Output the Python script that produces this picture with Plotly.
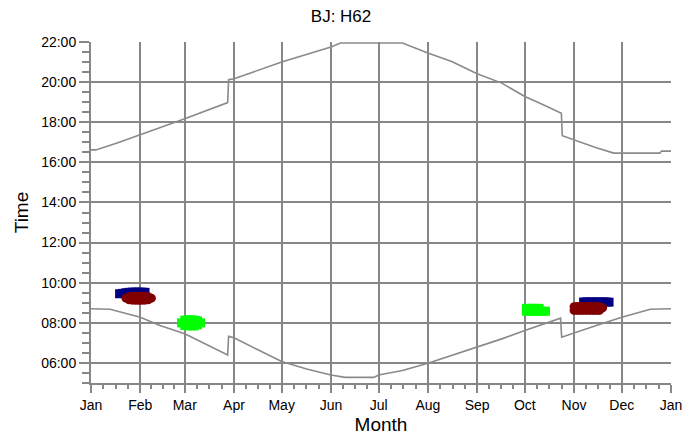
import datetime as dt
import plotly.graph_objects as go

# day of year (0 = 1 Jan) and hour of day
upper_day = [0, 3, 16, 31, 47.6, 59, 86, 86.6, 90, 120, 151, 157, 196, 212, 227, 243, 258.5, 273, 284.6, 296, 296.6, 304, 318, 329, 358, 359, 365]
upper_hr = [16.62, 16.62, 16.95, 17.37, 17.87, 18.17, 18.98, 20.12, 20.17, 21.0, 21.75, 21.95, 21.95, 21.45, 21.03, 20.42, 19.95, 19.28, 18.87, 18.45, 17.33, 17.12, 16.73, 16.46, 16.46, 16.56, 16.56]

lower_day = [0, 12, 31, 43.4, 59, 86, 86.6, 90, 105, 120, 135.7, 151, 160, 178, 181, 196, 212, 227, 243, 258.5, 273, 295.5, 296.2, 304, 318, 334, 352, 365]
lower_hr = [8.70, 8.68, 8.28, 7.87, 7.45, 6.40, 7.33, 7.25, 6.66, 6.07, 5.70, 5.40, 5.28, 5.28, 5.40, 5.62, 5.98, 6.37, 6.82, 7.20, 7.62, 8.23, 7.28, 7.50, 7.87, 8.28, 8.68, 8.70]

navy_day = [18, 20, 22, 24, 26, 28, 30, 32, 34,
            310, 312, 314, 316, 318, 320, 322, 324, 326]
navy_hr = [9.45, 9.47, 9.5, 9.52, 9.53, 9.53, 9.53, 9.53, 9.52,
           9.04, 9.04, 9.04, 9.04, 9.04, 9.04, 9.04, 9.04, 9.03]

red_day = [22, 24, 26, 28, 30, 32, 34, 36, 38, 24, 26, 28, 30, 32, 34, 36,
           304, 306, 308, 310, 312, 314, 316, 318, 320, 322, 304, 306, 308, 310, 312, 314, 316, 318, 320]
red_hr = [9.23, 9.3, 9.33, 9.33, 9.33, 9.33, 9.33, 9.3, 9.23, 9.15, 9.13, 9.12, 9.12, 9.12, 9.13, 9.15,
          8.8, 8.82, 8.82, 8.82, 8.82, 8.82, 8.82, 8.82, 8.8, 8.75, 8.62, 8.62, 8.62, 8.62, 8.62, 8.62, 8.62, 8.62, 8.62]

green_day = [57, 59, 61, 63, 65, 67, 69, 59, 61, 63, 65, 67,
             274, 276, 278, 280, 282, 274, 276, 278, 280, 282, 284, 286]
green_hr = [8.0, 8.13, 8.15, 8.15, 8.13, 8.1, 8.0, 7.87, 7.85, 7.85, 7.85, 7.9,
            8.72, 8.72, 8.72, 8.72, 8.72, 8.58, 8.58, 8.58, 8.58, 8.58, 8.58, 8.58]

hour_ticks = list(range(6, 23, 2))
hour_labels = [f"{h:02d}:00" for h in hour_ticks]

year0 = dt.datetime(2001, 1, 1)


def to_dates(days):
    return [year0 + dt.timedelta(days=d) for d in days]


# minor ticks: each month split in quarters
month_starts = [dt.datetime(2001, m, 1) for m in range(1, 13)] + [dt.datetime(2002, 1, 1)]
minor_vals = []
for a, b in zip(month_starts[:-1], month_starts[1:]):
    for k in (1, 2, 3):
        minor_vals.append(a + (b - a) * k / 4)

GRID = "#878787"

fig = go.Figure()
fig.add_trace(go.Scatter(x=to_dates(upper_day), y=upper_hr, mode="lines",
                         line=dict(color="#8a8a8a", width=1.6)))
fig.add_trace(go.Scatter(x=to_dates(lower_day), y=lower_hr, mode="lines",
                         line=dict(color="#8a8a8a", width=1.6)))
fig.add_trace(go.Scatter(x=to_dates(navy_day), y=navy_hr, mode="markers",
                         marker=dict(color="#000080", size=9, symbol="square")))
fig.add_trace(go.Scatter(x=to_dates(red_day), y=red_hr, mode="markers",
                         marker=dict(color="#800000", size=9, symbol="circle")))
fig.add_trace(go.Scatter(x=to_dates(green_day), y=green_hr, mode="markers",
                         marker=dict(color="#00ff00", size=9, symbol="square")))

# page body has an 8px margin, so the figure is a bit smaller than the window
fig.update_layout(
    width=691, height=431,
    margin=dict(l=83, r=28, t=34, b=56),
    paper_bgcolor="white", plot_bgcolor="white",
    showlegend=False,
    font=dict(family="Liberation Sans, Arial, sans-serif", color="black", size=14),
    title=dict(text="BJ: H62", x=0.482, xanchor="center", y=0.982, yanchor="middle",
               yref="container", font=dict(size=17)),
)
fig.update_xaxes(
    type="date", range=[year0, dt.datetime(2002, 1, 1)], automargin=False,
    dtick="M1", tick0="2001-01-01", tickformat="%b",
    showgrid=True, gridcolor=GRID, gridwidth=2,
    showline=True, linecolor=GRID, linewidth=2,
    ticks="outside", ticklen=8, tickwidth=1.5, tickcolor=GRID,
    minor=dict(tickmode="array", tickvals=minor_vals, ticks="outside", ticklen=4,
               tickwidth=1.5, tickcolor=GRID, showgrid=False),
    title=dict(text="Month", font=dict(size=19), standoff=6),
    zeroline=False,
)
fig.update_yaxes(
    range=[5, 22], tickvals=hour_ticks, ticktext=hour_labels, automargin=False,
    showgrid=True, gridcolor=GRID, gridwidth=2,
    showline=True, linecolor=GRID, linewidth=2,
    ticks="outside", ticklen=10, tickwidth=1.5, tickcolor=GRID,
    minor=dict(dtick=0.5, tick0=5, ticks="outside", ticklen=7, tickwidth=1.5,
               tickcolor=GRID, showgrid=False),
    title=dict(text="Time", font=dict(size=19), standoff=8),
    zeroline=False,
)

fig.write_html("out.html")
